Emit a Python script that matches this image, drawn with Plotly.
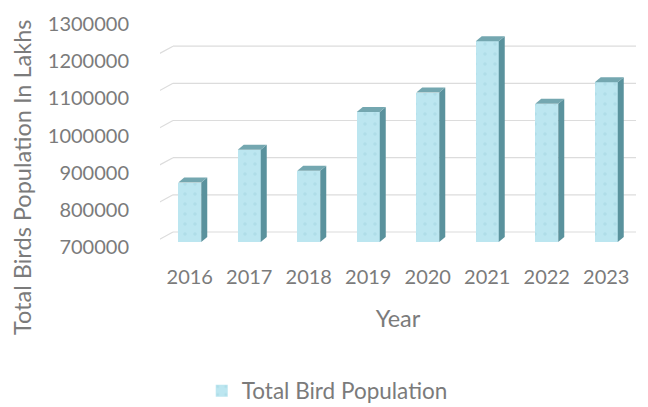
import plotly.graph_objects as go

# Annual bird census totals
years = ["2016", "2017", "2018", "2019", "2020", "2021", "2022", "2023"]
population = [860000, 948000, 892000, 1050000, 1102000, 1240000, 1072000, 1130000]
y_ticks = [700000, 800000, 900000, 1000000, 1100000, 1200000, 1300000]

W, H = 648, 407
Y_MIN, Y_MAX = 700000, 1300000
PLOT_LEFT, PLOT_RIGHT = 160, 636      # px
PLOT_TOP, PLOT_BOTTOM = 19, 242       # px
n = len(years)
px_per_cat = (PLOT_RIGHT - PLOT_LEFT) / n
px_per_val = (PLOT_BOTTOM - PLOT_TOP) / (Y_MAX - Y_MIN)

FRONT_W = 23          # front face width, px
DEPTH_DX, DEPTH_DY = 6, 5       # bar depth offset, px
WALL_DX, WALL_DY = 13, 10       # back wall offset, px

TEXT = "#7b7b7b"
FONT = "Lato"
FRONT = "#bce6f0"
SIDE = "#5a929d"
CAP = "#74a7b0"
GRID = "#dcdcdc"

TICK_SIZE = 20
TITLE_SIZE = 23.5
LEGEND_SIZE = 22.5

x_idx = list(range(n))

fig = go.Figure()
fig.add_trace(go.Bar(
    x=x_idx, y=[v - Y_MIN for v in population], base=Y_MIN,
    width=FRONT_W / px_per_cat,
    marker=dict(color=FRONT, line=dict(width=0),
                pattern=dict(shape=".", fgcolor="#a2d3df", size=10, solidity=0.1)),
    name="Total Bird Population",
    showlegend=True,
))

shapes = []
# back wall gridlines and the left wall diagonals
for t in y_ticks:
    shapes.append(dict(
        type="line", layer="below",
        xref="x", xsizemode="pixel", xanchor=-0.5,
        yref="y", ysizemode="pixel", yanchor=t,
        x0=WALL_DX, x1=PLOT_RIGHT - PLOT_LEFT + 4, y0=WALL_DY, y1=WALL_DY,
        line=dict(color=GRID, width=1.2),
    ))
    shapes.append(dict(
        type="line", layer="below",
        xref="x", xsizemode="pixel", xanchor=-0.5,
        yref="y", ysizemode="pixel", yanchor=t,
        x0=-9, x1=WALL_DX, y0=-2, y1=WALL_DY,
        line=dict(color=GRID, width=1.2),
    ))

# side and top faces of each column
half = FRONT_W / 2
for i, v in enumerate(population):
    h = (v - Y_MIN) * px_per_val
    side = (f"M {half},0 L {half + DEPTH_DX},{DEPTH_DY} "
            f"L {half + DEPTH_DX},{DEPTH_DY - h} L {half},{-h} Z")
    cap = (f"M {-half},0 L {half},0 L {half + DEPTH_DX},{DEPTH_DY} "
           f"L {-half + DEPTH_DX},{DEPTH_DY} Z")
    for p, c in ((side, SIDE), (cap, CAP)):
        shapes.append(dict(
            type="path", path=p, layer="above",
            xref="x", xsizemode="pixel", xanchor=i,
            yref="y", ysizemode="pixel", yanchor=v,
            fillcolor=c, line=dict(width=0),
        ))

fig.update_layout(
    width=W, height=H,
    margin=dict(l=0, r=0, t=0, b=0, autoexpand=False),
    paper_bgcolor="white", plot_bgcolor="white",
    font=dict(family=FONT, color=TEXT, size=TICK_SIZE),
    bargap=0,
    shapes=shapes,
    xaxis=dict(
        domain=[PLOT_LEFT / W, PLOT_RIGHT / W],
        range=[-0.5, n - 0.5],
        automargin=False,
        tickvals=x_idx, ticktext=years,
        showgrid=False, zeroline=False, showline=False, ticks="",
        ticklabelstandoff=21,
        tickfont=dict(size=TICK_SIZE, color=TEXT, family=FONT),
        title=dict(text="Year", standoff=23,
                   font=dict(size=TITLE_SIZE, color=TEXT, family=FONT)),
    ),
    yaxis=dict(
        domain=[(H - PLOT_BOTTOM) / H, (H - PLOT_TOP) / H],
        range=[Y_MIN, Y_MAX],
        automargin=False,
        tickvals=y_ticks, ticktext=[str(t) for t in y_ticks],
        showgrid=False, zeroline=False, showline=False, ticks="",
        ticklabelstandoff=30,
        ticklabelshift=5,
        tickfont=dict(size=TICK_SIZE, color=TEXT, family=FONT),
    ),
    annotations=[dict(
        text="Total Birds Population In Lakhs",
        xref="paper", yref="paper", x=22 / W, y=(H - 178) / H,
        xanchor="center", yanchor="middle", textangle=-90, showarrow=False,
        font=dict(size=TITLE_SIZE, color=TEXT, family=FONT),
    )],
    legend=dict(
        orientation="h", x=0.505, xanchor="center",
        y=(H - 391) / H, yanchor="middle",
        font=dict(size=LEGEND_SIZE, color=TEXT, family=FONT),
        itemwidth=30,
    ),
)

fig.write_html("out.html")
